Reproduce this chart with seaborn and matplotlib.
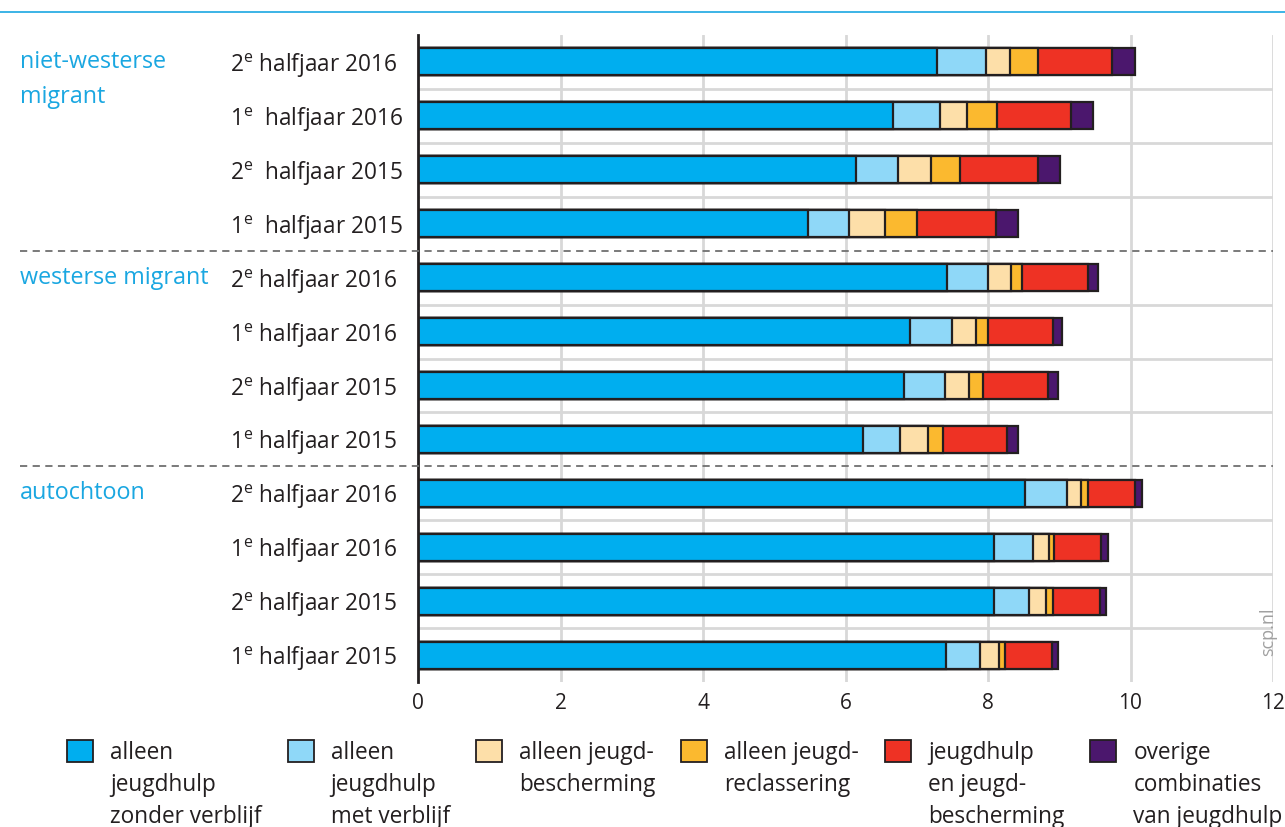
import matplotlib
matplotlib.use("Agg")
import matplotlib.pyplot as plt
import matplotlib.transforms as mtransforms
from matplotlib.lines import Line2D
from matplotlib.patches import Patch
import numpy as np
import pandas as pd
import seaborn as sns

# ---------------- data ----------------
groups = ["niet-westerse\nmigrant", "westerse migrant", "autochtoon"]
periods = ["2$^{\\mathrm{e}}$ halfjaar 2016", "1$^{\\mathrm{e}}$  halfjaar 2016",
           "2$^{\\mathrm{e}}$  halfjaar 2015", "1$^{\\mathrm{e}}$  halfjaar 2015",
           "2$^{\\mathrm{e}}$ halfjaar 2016", "1$^{\\mathrm{e}}$ halfjaar 2016",
           "2$^{\\mathrm{e}}$ halfjaar 2015", "1$^{\\mathrm{e}}$ halfjaar 2015",
           "2$^{\\mathrm{e}}$ halfjaar 2016", "1$^{\\mathrm{e}}$ halfjaar 2016",
           "2$^{\\mathrm{e}}$ halfjaar 2015", "1$^{\\mathrm{e}}$ halfjaar 2015"]
series_names = ["alleen\njeugdhulp\nzonder verblijf", "alleen\njeugdhulp\nmet verblijf",
                "alleen jeugd-\nbescherming", "alleen jeugd-\nreclassering",
                "jeugdhulp\nen jeugd-\nbescherming", "overige\ncombinaties\nvan jeugdhulp"]
zonder_verblijf = [7.28, 6.67, 6.15, 5.47, 7.42, 6.90, 6.82, 6.24, 8.52, 8.08, 8.08, 7.41]
met_verblijf = [0.69, 0.66, 0.59, 0.58, 0.58, 0.59, 0.57, 0.52, 0.59, 0.55, 0.50, 0.48]
jeugdbescherming = [0.34, 0.37, 0.46, 0.50, 0.32, 0.34, 0.35, 0.40, 0.20, 0.22, 0.24, 0.26]
jeugdreclassering = [0.39, 0.43, 0.41, 0.45, 0.16, 0.17, 0.19, 0.21, 0.09, 0.08, 0.09, 0.09]
jh_en_jb = [1.04, 1.03, 1.09, 1.11, 0.93, 0.91, 0.91, 0.90, 0.67, 0.65, 0.66, 0.66]
overige = [0.33, 0.32, 0.31, 0.31, 0.14, 0.13, 0.14, 0.15, 0.09, 0.10, 0.09, 0.08]
xticks = [0, 2, 4, 6, 8, 10, 12]

colors = ["#00aeef", "#8fd8f8", "#fddfa9", "#fbb92f", "#ee3224", "#4b176d"]
edge = "#231f20"
textc = "#231f20"
blue_txt = "#1aa7e1"

# ---------------- style ----------------
sns.set_theme(style="white")
plt.rcParams["font.family"] = ["Open Sans", "DejaVu Sans"]
plt.rcParams["mathtext.fontset"] = "custom"
plt.rcParams["mathtext.rm"] = "Open Sans"
plt.rcParams["mathtext.it"] = "Open Sans"
plt.rcParams["text.color"] = textc

fig = plt.figure(figsize=(12.85, 8.27), dpi=100)
ax = fig.add_axes([418/1285, 1-682/827, (1273-418)/1285, (682-35)/827])

keys = [f"r{i}" for i in range(len(periods))]
series = [zonder_verblijf, met_verblijf, jeugdbescherming, jeugdreclassering, jh_en_jb, overige]
cum = np.cumsum(np.array(series), axis=0)

# grid
for b in np.arange(0.5, 11.5, 1.0):
    if b in (3.5, 7.5):
        continue
    ax.axhline(b, color="#d8d8d8", lw=2, zorder=0)
for xv in xticks[1:]:
    ax.axvline(xv, color="#d8d8d8", lw=2, zorder=0)

# stacked bars (overlay from largest cumulative to smallest)
for k in range(len(series) - 1, -1, -1):
    df = pd.DataFrame({"key": keys, "val": cum[k]})
    sns.barplot(data=df, x="val", y="key", orient="h", color=colors[k], saturation=1,
                edgecolor=edge, linewidth=1.6, width=0.5, ax=ax, zorder=3)

ax.set_xlim(0, 12)
ax.set_ylim(11.5, -0.5)
ax.set_xlabel("")
ax.set_ylabel("")
ax.set_xticks(xticks)
ax.set_xticklabels([str(t) for t in xticks], fontsize=15, color=textc)
ax.set_yticks(range(len(periods)))
ax.set_yticklabels(periods, fontsize=16.3, color=textc, ha="left")
ax.tick_params(axis="y", length=0, pad=(418-230)*0.72)
ax.tick_params(axis="x", length=0, pad=8)
for s in ["top", "right", "bottom"]:
    ax.spines[s].set_visible(False)
ax.spines["left"].set_color(edge)
ax.spines["left"].set_linewidth(2)
ax.spines["left"].set_zorder(5)

# group labels and separators
trans = mtransforms.blended_transform_factory(fig.transFigure, ax.transData)
for gi, g in enumerate(groups):
    ax.text(20/1285, gi*4 - 0.22, g, transform=trans, ha="left", va="top",
            fontsize=16.8, color=blue_txt, linespacing=1.62)
for yb in (3.5, 7.5):
    fig.add_artist(Line2D([20/1285, 1273/1285], [yb, yb], transform=trans,
                          color="#707070", lw=1.3, linestyle=(0, (4, 3)), zorder=1))

# top line
fig.add_artist(Line2D([0, 1], [1-12/827, 1-12/827], transform=fig.transFigure,
                      color="#1aa7e1", lw=1.2))

# scp.nl
fig.text(1268/1285, 1-632/827, "scp.nl", rotation=90, ha="center", va="center",
         fontsize=13, color="#a0a0a0")

# legend (labels padded to three lines so that all entries are top-aligned)
fs = 16.3
ls = 1.45
maxlines = max(s.count("\n") + 1 for s in series_names)
shown = [s + "\n" * (maxlines - (s.count("\n") + 1)) for s in series_names]
handles = [Patch(facecolor=c, edgecolor=edge, linewidth=1.3) for c in colors]
leg = fig.legend(handles, shown, loc="upper left", ncol=6,
                 bbox_to_anchor=(67/1285, 1-741/827), frameon=False, fontsize=fs,
                 handlelength=1.15, handleheight=1.15, handletextpad=0.75,
                 columnspacing=1.15, borderpad=0, borderaxespad=0)
for t, h in zip(leg.get_texts(), leg.legend_handles):
    t.set_linespacing(ls)
    t.set_color(textc)
    h.set_y(h.get_y() + 25.6)

fig.savefig("out.png", dpi=100)
